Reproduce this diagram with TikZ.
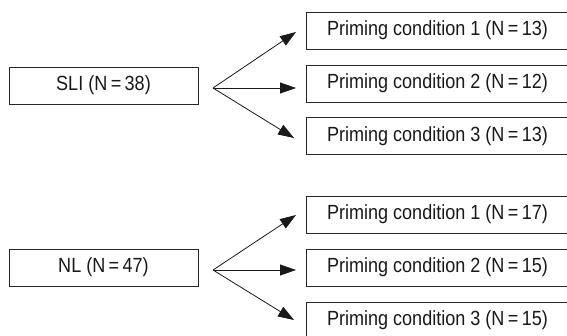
\documentclass[tikz,border=0pt]{standalone}
\usepackage{fontspec}
\setmainfont[FakeStretch=0.88]{Liberation Sans}
\usetikzlibrary{arrows.meta}
\begin{document}
\begin{tikzpicture}[x=1pt,y=-1pt,
  box/.style={draw=black!85, line width=0.9pt, inner sep=0pt, minimum height=37pt, text=black!90,
    font=\fontsize{20.5}{24}\selectfont},
  leftbox/.style={box, minimum width=189pt},
  rightbox/.style={box, minimum width=267pt},
  arr/.style={line width=0.8pt, black!90, -{Triangle[length=16pt,width=11pt]}}]
\useasboundingbox (0,0) rectangle (567,335);
\clip (0,0) rectangle (567,335);
% upper group
\node[leftbox] (sli) at (103.5,85.5) {SLI (N\,=\,38)};
\node[rightbox] (a1) at (439.5,30.5) {\hspace*{-4pt}Priming condition 1 (N\,=\,13)};
\node[rightbox] (a2) at (439.5,83.5) {\hspace*{-4pt}Priming condition 2 (N\,=\,12)};
\node[rightbox] (a3) at (439.5,136) {\hspace*{-4pt}Priming condition 3 (N\,=\,13)};
\coordinate (o1) at (213,88);
\coordinate (t11) at (296,32);
\coordinate (t12) at (296,88);
\coordinate (t13) at (294,138);
\draw[arr] (o1) -- (t11);
\draw[arr] (o1) -- (t12);
\draw[arr] (o1) -- (t13);
% lower group
\node[leftbox] (nl) at (103.5,267.5) {NL (N\,=\,47)};
\node[rightbox] (b1) at (439.5,214.5) {\hspace*{-4pt}Priming condition 1 (N\,=\,17)};
\node[rightbox] (b2) at (439.5,267.5) {\hspace*{-4pt}Priming condition 2 (N\,=\,15)};
\node[rightbox] (b3) at (439.5,320.5) {\hspace*{-4pt}Priming condition 3 (N\,=\,15)};
\coordinate (o2) at (213,270);
\coordinate (t21) at (296,215);
\coordinate (t22) at (296,270);
\coordinate (t23) at (294,320);
\draw[arr] (o2) -- (t21);
\draw[arr] (o2) -- (t22);
\draw[arr] (o2) -- (t23);
\end{tikzpicture}
\end{document}
